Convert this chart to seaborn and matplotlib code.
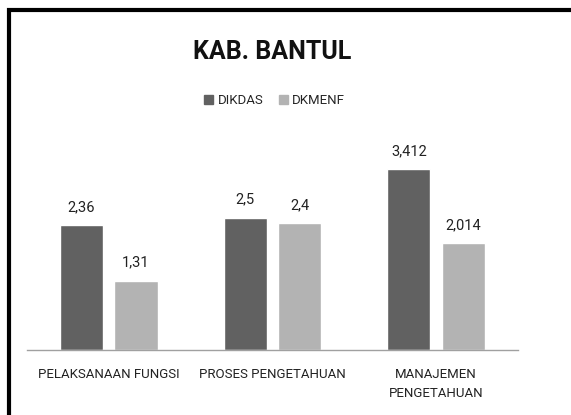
import numpy as np
import pandas as pd
import matplotlib
matplotlib.use('Agg')
import matplotlib.pyplot as plt
import seaborn as sns
from matplotlib.patches import Rectangle

# data
categories = ['PELAKSANAAN FUNGSI', 'PROSES PENGETAHUAN', 'MANAJEMEN\nPENGETAHUAN']
series = ['DIKDAS', 'DKMENF']
dikdas = [2.36, 2.5, 3.412]
dkmenf = [1.31, 2.4, 2.014]
colors = ['#616161', '#b3b3b3']

df = pd.DataFrame({
    'kategori': categories * 2,
    'seri': [series[0]] * 3 + [series[1]] * 3,
    'nilai': dikdas + dkmenf,
})

sns.set_style('white')
plt.rcParams['font.family'] = ['Roboto', 'DejaVu Sans']

fig = plt.figure(figsize=(5.71, 4.15), dpi=100)
ax = fig.add_axes([0.047, 0.1566, 0.86, 0.51])

sns.barplot(data=df, x='kategori', y='nilai', hue='seri', palette=colors,
            width=0.667, gap=0.21, saturation=1, ax=ax, legend=False)

for cont, vals in zip(ax.containers, [dikdas, dkmenf]):
    labs = [str(v).replace('.', ',') for v in vals]
    ax.bar_label(cont, labels=labs, padding=8, fontsize=10.5, color='#222222')

ax.set_ylim(0, 4)
ax.set_xlim(-0.5, 2.5)
ax.set_xlabel('')
ax.set_ylabel('')
ax.set_yticks([])
for s in ['top', 'right', 'left']:
    ax.spines[s].set_visible(False)
ax.spines['bottom'].set_color('#a0a0a0')
ax.spines['bottom'].set_linewidth(1)
ax.tick_params(axis='x', length=0, pad=13, labelsize=9.5, colors='#222222')
for t in ax.get_xticklabels():
    t.set_linespacing(1.6)

# legend
handles = [Rectangle((0, 0), 1, 1, color=c) for c in colors]
fig.legend(handles, series, loc='center', bbox_to_anchor=(0.481, 0.758), ncol=2,
           frameon=False, fontsize=9.5, handlelength=0.7, handleheight=0.7,
           handletextpad=0.3, columnspacing=1.2)

fig.text(0.476, 0.875, 'KAB. BANTUL', ha='center', va='center', fontsize=18,
         fontweight='bold', color='#111111')

# chart border
fig.patches.append(Rectangle((9 / 571, -0.05), 1.0, 1 - 10 / 415 + 0.05,
                             transform=fig.transFigure, fill=False,
                             edgecolor='black', linewidth=3))

fig.savefig('out.png', dpi=100)
